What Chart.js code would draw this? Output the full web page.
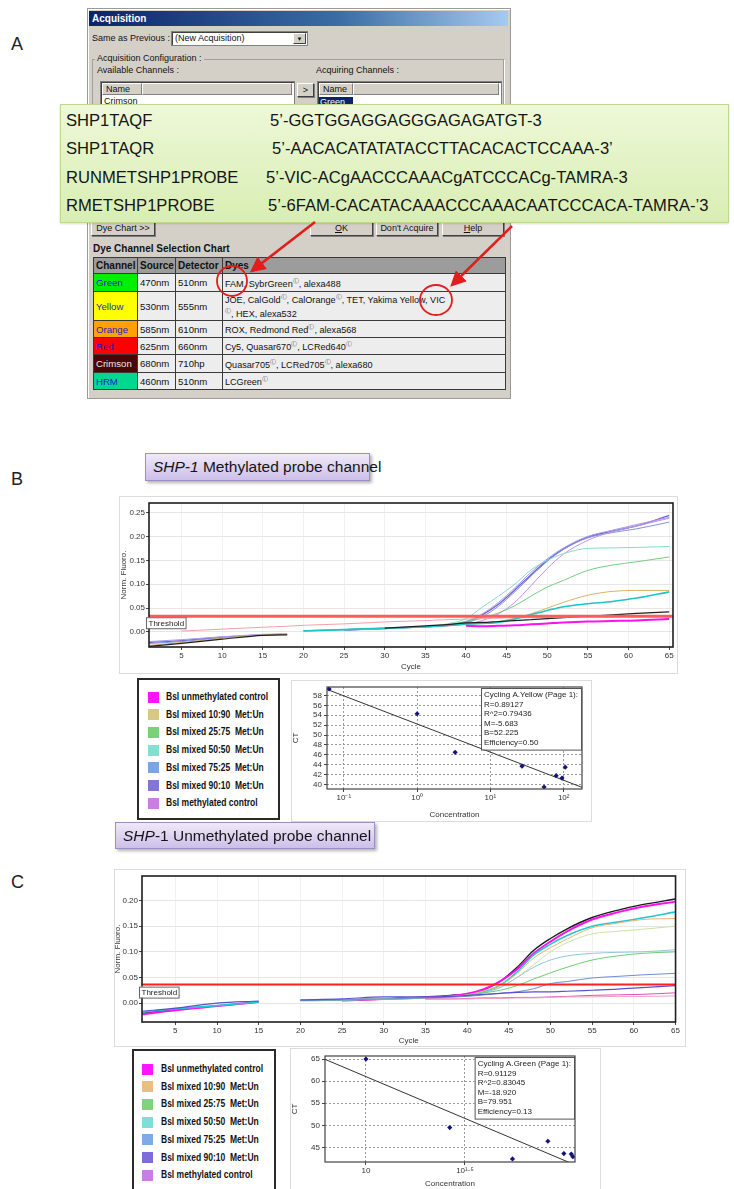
<!DOCTYPE html>
<html>
<head>
<meta charset="utf-8">
<script src="https://cdn.jsdelivr.net/npm/chart.js@4.4.1/dist/chart.umd.min.js"></script>
<style>
html,body{margin:0;padding:0;background:#fff;}
body{width:734px;height:1189px;position:relative;overflow:hidden;font-family:"Liberation Sans",Arial,sans-serif;color:#111;}
.a{position:absolute;white-space:nowrap;}
.plabel{font-size:18px;color:#222;}
.dlg{background:#d4d0c8;border:1px solid #9a9a9a;box-shadow:inset 1px 1px 0 #fff;}
.tbar{background:linear-gradient(to right,#0a246a,#3a6ea5 60%,#a6caf0);color:#fff;font-weight:bold;font-size:10px;line-height:15px;padding-left:3px;box-sizing:border-box;}
.t9{font-size:9px;line-height:11px;color:#111;}
.combo{background:#fff;border:1px solid #808080;box-shadow:inset 1px 1px 0 #404040;font-size:9px;line-height:13px;padding-left:3px;box-sizing:border-box;}
.dropbtn{position:absolute;right:1px;top:1px;width:13px;height:11px;background:#d4d0c8;border:1px solid #fff;border-right-color:#404040;border-bottom-color:#404040;font-size:6px;line-height:11px;text-align:center;box-sizing:border-box;}
.group{border:1px solid #a0a0a0;box-shadow:1px 1px 0 #fff;}
.list{background:#fff;border:1px solid #808080;box-shadow:inset 1px 1px 0 #404040;}
.hdr{background:#d4d0c8;border:1px solid #fff;border-right-color:#808080;border-bottom-color:#808080;font-size:9px;line-height:10px;padding-left:3px;box-sizing:border-box;}
.btn{background:#d4d0c8;border:1px solid #fff;border-right-color:#404040;border-bottom-color:#404040;box-shadow:1px 1px 0 #808080;font-size:9px;line-height:16px;text-align:center;box-sizing:border-box;}
.callout{background:linear-gradient(to bottom,#eef8d8,#d8eeb2);border:1px solid #bcd98e;box-shadow:0 1px 2px rgba(0,0,0,0.15);}
.seq{font-size:16.6px;line-height:19px;color:#151515;}
table.dye{border-collapse:collapse;table-layout:fixed;background:#ededed;}
table.dye td{border:1px solid #3a3a3a;font-size:9.6px;padding:0 2px;line-height:11px;vertical-align:middle;overflow:hidden;white-space:nowrap;}
table.dye td.dy{font-size:9.1px;}
table.dye tr.h td{background:#9c9c9c;font-weight:bold;font-size:10px;}
sup.l{font-size:6px;vertical-align:4px;color:#555;}
.ptitle{background:linear-gradient(to bottom,#efe9f8,#cdbfe8);border:1px solid #9d8fc2;box-shadow:2px 2px 3px rgba(0,0,0,0.3);font-size:15.5px;line-height:26px;box-sizing:border-box;padding-left:7px;color:#151515;}
.frame{border:1px solid #dcdcdc;background:#fff;}
.legbox{border:2px solid #2a2a2a;background:#fff;box-sizing:border-box;}
.sw{width:11px;height:11px;}
.legtxt{font-weight:bold;font-size:10px;line-height:12px;color:#111;white-space:pre;transform:scaleX(0.85);transform-origin:0 50%;}
canvas{position:absolute;}
</style>
</head>
<body>

<!-- Panel A: acquisition dialog with dye channel chart -->
<div class="a plabel" style="left:11px;top:34px">A</div>
<div class="a dlg" style="left:87px;top:8px;width:422px;height:389px"></div>
<div class="a tbar" style="left:89px;top:11px;width:419px;height:15px">Acquisition</div>
<div class="a t9" style="left:92px;top:33px">Same as Previous :</div>
<div class="a combo" style="left:171px;top:31px;width:137px;height:15px">(New Acquisition)<div class="dropbtn">&#9660;</div></div>
<div class="a group" style="left:92px;top:59px;width:410px;height:70px"></div>
<div class="a t9" style="left:95px;top:53px;background:#d4d0c8;padding:0 2px">Acquisition Configuration :</div>
<div class="a t9" style="left:97px;top:65px">Available Channels :</div>
<div class="a t9" style="left:316px;top:65px">Acquiring Channels :</div>
<div class="a list" style="left:100px;top:81px;width:193px;height:40px"></div>
<div class="a hdr" style="left:102px;top:83px;width:40px;height:12px">Name</div>
<div class="a hdr" style="left:142px;top:83px;width:150px;height:12px"></div>
<div class="a t9" style="left:104px;top:96px">Crimson</div>
<div class="a btn" style="left:297px;top:83px;width:17px;height:14px;line-height:12px">&gt;</div>
<div class="a list" style="left:317px;top:81px;width:183px;height:40px"></div>
<div class="a hdr" style="left:319px;top:83px;width:34px;height:12px">Name</div>
<div class="a hdr" style="left:353px;top:83px;width:146px;height:12px"></div>
<div class="a t9" style="left:319px;top:97px;width:33px;height:12px;background:#0a246a;color:#fff;padding-left:1px">Green</div>

<div class="a btn" style="left:91px;top:219px;width:64px;height:17px">Dye Chart &gt;&gt;</div>
<div class="a btn" style="left:310px;top:219px;width:63px;height:17px"><u>O</u>K</div>
<div class="a btn" style="left:376px;top:219px;width:62px;height:17px">Don't Acquire</div>
<div class="a btn" style="left:442px;top:219px;width:62px;height:17px"><u>H</u>elp</div>

<div class="a" style="left:93px;top:243px;font-size:10px;font-weight:bold">Dye Channel Selection Chart</div>
<table class="a dye" style="left:93px;top:257px;width:412px">
<colgroup><col style="width:44px"><col style="width:38px"><col style="width:47px"><col style="width:283px"></colgroup>
<tr class="h" style="height:16px"><td>Channel</td><td>Source</td><td>Detector</td><td>Dyes</td></tr>
<tr style="height:18px"><td style="background:#00f000;color:#1a1ad0">Green</td><td>470nm</td><td>510nm</td><td class="dy">FAM, SybrGreen<sup class="l">&#9409;</sup>, alexa488</td></tr>
<tr style="height:28px"><td style="background:#ffff00;color:#1a1ad0">Yellow</td><td>530nm</td><td>555nm</td><td class="dy">JOE, CalGold<sup class="l">&#9409;</sup>, CalOrange<sup class="l">&#9409;</sup>, TET, Yakima Yellow, VIC<br><sup class="l">&#9409;</sup>, HEX, alexa532</td></tr>
<tr style="height:17px"><td style="background:#ffa200;color:#1a1ad0">Orange</td><td>585nm</td><td>610nm</td><td class="dy">ROX, Redmond Red<sup class="l">&#9409;</sup>, alexa568</td></tr>
<tr style="height:17px"><td style="background:#ff0000;color:#1a1ad0">Red</td><td>625nm</td><td>660nm</td><td class="dy">Cy5, Quasar670<sup class="l">&#9409;</sup>, LCRed640<sup class="l">&#9409;</sup></td></tr>
<tr style="height:18px"><td style="background:#4a0505;color:#e8e8e8">Crimson</td><td>680nm</td><td>710hp</td><td class="dy">Quasar705<sup class="l">&#9409;</sup>, LCRed705<sup class="l">&#9409;</sup>, alexa680</td></tr>
<tr style="height:17px"><td style="background:#00d890;color:#1a1ad0">HRM</td><td>460nm</td><td>510nm</td><td class="dy">LCGreen<sup class="l">&#9409;</sup></td></tr>
</table>

<div class="a callout" style="left:60px;top:104px;width:667px;height:117px"></div>
<div class="a seq" style="left:66px;top:111px">SHP1TAQF</div>
<div class="a seq" style="left:270px;top:111px">5’-GGTGGAGGAGGGAGAGATGT-3</div>
<div class="a seq" style="left:66px;top:139px">SHP1TAQR</div>
<div class="a seq" style="left:272px;top:139px">5’-AACACATATATACCTTACACACTCCAAA-3’</div>
<div class="a seq" style="left:66px;top:168px">RUNMETSHP1PROBE</div>
<div class="a seq" style="left:266px;top:168px">5’-VIC-ACgAACCCAAACgATCCCACg-TAMRA-3</div>
<div class="a seq" style="left:66px;top:196px">RMETSHP1PROBE</div>
<div class="a seq" style="left:268px;top:196px">5’-6FAM-CACATACAAACCCAAACAATCCCACA-TAMRA-’3</div>

<svg class="a" style="left:0;top:0" width="734" height="420" viewBox="0 0 734 420">
<defs><marker id="ah" markerWidth="6" markerHeight="6" refX="4.5" refY="3" orient="auto" markerUnits="strokeWidth"><path d="M0,0 L6,3 L0,6 z" fill="#e41c1c"/></marker></defs>
<ellipse cx="232" cy="281" rx="15" ry="15" fill="none" stroke="#e41c1c" stroke-width="1.8"/>
<ellipse cx="436" cy="300" rx="16" ry="15" fill="none" stroke="#e41c1c" stroke-width="1.8"/>
<line x1="315" y1="222" x2="253" y2="270" stroke="#e41c1c" stroke-width="2.6" marker-end="url(#ah)"/>
<line x1="512" y1="226" x2="453" y2="284" stroke="#e41c1c" stroke-width="2.6" marker-end="url(#ah)"/>
</svg>

<!-- Panel B -->
<div class="a plabel" style="left:11px;top:469px">B</div>
<div class="a ptitle" style="left:145px;top:453px;width:225px;height:28px"><i>SHP-1</i> Methylated probe channel</div>
<div class="a frame" style="left:119px;top:496px;width:557px;height:176px"></div>
<canvas id="ampB" width="558" height="176" style="left:119px;top:496px"></canvas>
<div class="a legbox" style="left:137px;top:678px;width:143px;height:142px"></div>
<div id="legB"></div>
<div class="a frame" style="left:291px;top:680px;width:299px;height:140px"></div>
<canvas id="stdB" width="299" height="140" style="left:291px;top:680px"></canvas>

<!-- Panel C -->
<div class="a plabel" style="left:11px;top:872px">C</div>
<div class="a ptitle" style="left:115px;top:822px;width:260px;height:27px"><i>SHP</i>-1 Unmethylated probe channel</div>
<div class="a frame" style="left:114px;top:869px;width:570px;height:176px"></div>
<canvas id="ampC" width="568" height="176" style="left:113px;top:870px"></canvas>
<div class="a legbox" style="left:132px;top:1049px;width:144px;height:145px"></div>
<div id="legC"></div>
<div class="a frame" style="left:290px;top:1048px;width:309px;height:145px"></div>
<canvas id="stdC" width="309" height="141" style="left:290px;top:1048px"></canvas>

<script>
// ---------- amplification data (normalised fluorescence per cycle) ----------
const cycles = [1, 5, 10, 15, 18, 20, 25, 30, 35, 38, 40, 42, 44, 46, 48, 50, 52, 55, 58, 61, 65];
const cycleTicks = [5, 10, 15, 20, 25, 30, 35, 40, 45, 50, 55, 60, 65];
const fluoroTicksB = [0, 0.05, 0.10, 0.15, 0.20, 0.25];
const fluoroTicksC = [0, 0.05, 0.10, 0.15, 0.20];
const thresholdB = 0.033;
const thresholdC = 0.036;

// methylated probe channel (Cycling A.Yellow)
const metPurple   = [-0.022,-0.018,-0.011,-0.006,-0.005,null,0.004,0.007,0.011,0.014,0.021,0.036,0.058,0.088,0.120,0.150,0.174,0.199,0.211,0.222,0.244];
const metBlue     = [-0.024,-0.020,-0.012,-0.007,-0.005,null,0.004,0.007,0.011,0.014,0.019,0.032,0.054,0.084,0.117,0.148,0.173,0.197,0.208,0.216,0.230];
const metLavender = [-0.020,-0.016,-0.010,-0.005,-0.004,null,0.004,0.007,0.011,0.015,0.022,0.038,0.062,0.092,0.125,0.153,0.176,0.200,0.213,0.225,0.240];
const metOrchid   = [null,null,null,null,null,0.002,0.005,0.008,0.011,0.013,0.016,0.024,0.038,0.062,0.097,0.133,0.163,0.192,0.210,0.222,0.238];
const metTurq     = [null,null,null,null,null,0.003,0.005,0.008,0.012,0.018,0.028,0.052,0.075,0.100,0.130,0.150,0.164,0.175,0.176,0.177,0.179];
const metGreen    = [null,null,null,null,null,0.003,0.005,0.008,0.011,0.016,0.022,0.029,0.040,0.055,0.075,0.094,0.108,0.129,0.140,0.147,0.157];
const metTan      = [-0.028,-0.022,-0.013,-0.006,-0.005,null,0.005,0.008,0.011,0.014,0.016,0.018,0.022,0.029,0.038,0.050,0.062,0.077,0.085,0.087,0.087];
const metTeal     = [null,null,null,null,null,0.002,0.005,0.008,0.011,0.014,0.017,0.018,0.020,0.027,0.036,0.045,0.053,0.059,0.064,0.071,0.084];
const metBlack    = [-0.030,-0.024,-0.015,-0.007,-0.006,null,null,0.008,0.013,0.016,0.019,0.020,0.022,0.024,0.026,0.028,0.030,0.033,0.036,0.039,0.042];
const metMagenta  = [null,null,null,null,null,null,null,null,null,null,0.013,0.012,0.013,0.014,0.016,0.018,0.020,0.022,0.023,0.024,0.027];
const metPink     = [null,0.002,0.006,0.010,0.012,0.014,0.017,0.021,0.024,0.026,0.027,0.028,0.029,0.030,0.030,0.031,0.031,0.032,0.032,0.033,0.033];

// unmethylated probe channel (Cycling A.Green)
const unBlack     = [-0.020,-0.013,null,null,null,null,0.006,0.008,0.012,0.015,0.018,0.026,0.043,0.070,0.103,0.126,0.145,0.167,0.181,0.192,0.203];
const unMagenta   = [-0.022,-0.014,-0.006,0.002,null,null,0.005,0.008,0.011,0.014,0.018,0.027,0.043,0.066,0.097,0.120,0.140,0.163,0.177,0.188,0.198];
const unCyan      = [-0.018,-0.011,-0.005,0.002,null,0.005,0.006,0.008,0.010,0.012,0.015,0.022,0.035,0.061,0.094,0.115,0.132,0.150,0.158,0.166,0.178];
const unTan       = [null,null,null,null,null,0.005,0.006,0.008,0.010,0.013,0.016,0.024,0.035,0.058,0.088,0.108,0.125,0.147,0.156,0.163,0.165];
const unPaleGreen = [null,null,null,null,null,0.005,0.006,0.008,0.010,0.012,0.015,0.020,0.030,0.050,0.075,0.100,0.118,0.135,0.140,0.144,0.150];
const unPaleBlue  = [null,null,null,null,null,0.005,0.006,0.008,0.010,0.012,0.015,0.021,0.031,0.050,0.070,0.084,0.092,0.097,0.099,0.100,0.104];
const unGreen     = [null,null,null,null,null,0.005,0.006,0.008,0.010,0.012,0.015,0.020,0.025,0.034,0.047,0.059,0.070,0.084,0.092,0.097,0.100];
const unBlue      = [null,null,null,null,null,0.005,0.006,0.008,0.010,0.012,0.013,0.016,0.019,0.022,0.028,0.038,0.042,0.049,0.052,0.055,0.058];
const unPurple    = [-0.016,-0.010,0.000,0.004,null,0.006,0.008,0.012,0.012,0.013,0.015,0.017,0.019,0.021,0.022,0.022,0.023,0.025,0.027,0.030,0.034];
const unPink      = [null,null,null,null,null,null,null,null,0.008,0.008,0.009,0.010,0.010,0.011,0.011,0.012,0.013,0.015,0.016,0.017,0.020];
const unLightPink = [null,null,null,null,null,null,null,null,0.007,0.008,0.008,0.009,0.009,0.010,0.010,0.011,0.012,0.012,0.013,0.013,0.014];

// ---------- legend ----------
const legendLabels = ['Bsl unmethylated control','Bsl mixed 10:90  Met:Un','Bsl mixed 25:75  Met:Un','Bsl mixed 50:50  Met:Un','Bsl mixed 75:25  Met:Un','Bsl mixed 90:10  Met:Un','Bsl methylated control'];
const legendColorsB = ['#ff00ff','#d6c27a','#6ccc6c','#78dccb','#6f9fe0','#7868d6','#c474e0'];
const legendColorsC = ['#ff00ff','#e8b878','#72d072','#74dcd2','#74a4e2','#7460d6','#c474e0'];

// ---------- standard curves (Ct vs concentration) ----------
const concB = [0.063, 1.0, 3.3, 27, 54, 79, 95, 105];
const ctB   = [59.3, 54.3, 46.5, 43.7, 39.5, 41.8, 41.3, 43.5];
const concTicksB = [0.1, 1, 10, 100];
const concLabelsB = ['10\u207B\u00B9', '10\u2070', '10\u00B9', '10\u00B2'];
const ctTicksB = [40, 42, 44, 46, 48, 50, 52, 54, 56, 58];
const statsB = ['Cycling A.Yellow (Page 1):', 'R=0.89127', 'R^2=0.79436', 'M=-5.683', 'B=52.225', 'Efficiency=0.50'];
const slopeB = -5.683, interceptB = 52.225;

const concC = [10, 26.5, 55, 83, 100, 109, 111];
const ctC   = [65.0, 49.5, 42.4, 46.4, 43.6, 43.5, 42.9];
const concTicksC = [10, 31.623];
const concLabelsC = ['10', '10\u00B9\u00B7\u2075'];
const ctTicksC = [45, 50, 55, 60, 65];
const statsC = ['Cycling A.Green (Page 1):', 'R=0.91129', 'R^2=0.83045', 'M=-18.920', 'B=79.951', 'Efficiency=0.13'];
const slopeC = -18.920, interceptC = 79.951;

// ---------- legends as html ----------
function buildLegend(id, colors, left, swLeft, top0, step){
  const host = document.getElementById(id);
  legendLabels.forEach((lab, i) => {
    const y = top0 + i * step;
    const sw = document.createElement('div');
    sw.className = 'a sw';
    sw.style.cssText = `left:${swLeft}px;top:${y - 5.5}px;background:${colors[i]};opacity:0.92`;
    host.appendChild(sw);
    const t = document.createElement('div');
    t.className = 'a legtxt';
    t.style.cssText = `left:${left}px;top:${y - 6}px`;
    t.textContent = lab;
    host.appendChild(t);
  });
}
buildLegend('legB', legendColorsB, 166, 148, 697, 17.7);
buildLegend('legC', legendColorsC, 161, 142, 1069, 17.7);

// ---------- plugins ----------
const TICK_FONT = {family: '"Liberation Sans", Arial, sans-serif', size: 8};

const plotFrame = {
  id: 'plotFrame',
  afterDraw(chart, args, o){
    const {ctx, chartArea: a} = chart;
    ctx.save();
    ctx.strokeStyle = o.color || '#222';
    ctx.lineWidth = o.width || 1.5;
    ctx.strokeRect(a.left, a.top, a.right - a.left, a.bottom - a.top);
    ctx.restore();
  }
};

const thresholdTag = {
  id: 'thresholdTag',
  afterDraw(chart, args, o){
    if (!o || o.value === undefined) return;
    const {ctx, chartArea: a} = chart;
    const py = chart.scales.y.getPixelForValue(o.value);
    ctx.save();
    ctx.font = '8px "Liberation Sans", Arial, sans-serif';
    const w = ctx.measureText('Threshold').width + 4;
    const x = a.left - 3, top = py + o.dy;
    ctx.fillStyle = '#fff';
    ctx.fillRect(x, top, w, 11);
    ctx.strokeStyle = '#666';
    ctx.lineWidth = 1;
    ctx.strokeRect(x + 0.5, top + 0.5, w, 11);
    ctx.fillStyle = '#222';
    ctx.textBaseline = 'middle';
    ctx.fillText('Threshold', x + 2.5, top + 6.5);
    ctx.restore();
  }
};

const statsBox = {
  id: 'statsBox',
  afterDraw(chart, args, o){
    if (!o || !o.lines) return;
    const {ctx, chartArea: a} = chart;
    ctx.save();
    ctx.font = '8px "Liberation Sans", Arial, sans-serif';
    const w = Math.max(...o.lines.map(s => ctx.measureText(s).width)) + 6;
    const lh = 9.6, h = o.lines.length * lh + 4;
    const x = a.right - w - 1, y = a.top + 1;
    ctx.fillStyle = '#fff';
    ctx.fillRect(x, y, w, h);
    ctx.strokeStyle = '#555';
    ctx.lineWidth = 1;
    ctx.strokeRect(x + 0.5, y + 0.5, w, h);
    ctx.fillStyle = '#222';
    ctx.textBaseline = 'middle';
    o.lines.forEach((s, i) => ctx.fillText(s, x + 3, y + 2 + lh * (i + 0.5)));
    ctx.restore();
  }
};

// ---------- amplification plots ----------
function toPoints(vals){ return cycles.map((c, i) => ({x: c, y: vals[i]})); }

function ampChart(id, series, thr, thrStyle, yRange, yTicks, xMax, g){
  const datasets = [{
    data: [{x: 1, y: thr}, {x: xMax, y: thr}],
    borderColor: thrStyle.color, borderWidth: thrStyle.width, pointRadius: 0
  }];
  series.forEach(s => datasets.push({
    data: toPoints(s.v), borderColor: s.c, borderWidth: s.w || 1,
    pointRadius: 0, spanGaps: false, cubicInterpolationMode: 'monotone'
  }));
  new Chart(document.getElementById(id), {
    type: 'line',
    data: {datasets},
    plugins: [plotFrame, thresholdTag],
    options: {
      responsive: false, animation: false, events: [],
      layout: {padding: {top: g.top, right: g.right, left: 0, bottom: 0}},
      plugins: {legend: {display: false}, tooltip: {enabled: false},
        plotFrame: {color: '#1e1e1e', width: 1.6},
        thresholdTag: {value: thr, dy: g.tagDy}},
      scales: {
        x: {type: 'linear', min: 1, max: xMax,
          afterBuildTicks: s => { s.ticks = cycleTicks.map(v => ({value: v})); },
          afterFit: s => { s.height = g.xh; },
          ticks: {font: TICK_FONT, color: '#333', padding: 1, maxRotation: 0, autoSkip: false},
          grid: {color: '#f1f1f1', tickColor: '#444', tickLength: 3},
          border: {display: false},
          title: {display: true, text: 'Cycle', font: TICK_FONT, color: '#333', padding: {top: 0, bottom: 0}}},
        y: {min: yRange[0], max: yRange[1],
          afterBuildTicks: s => { s.ticks = yTicks.map(v => ({value: v})); },
          afterFit: s => { s.width = g.yw; },
          ticks: {font: TICK_FONT, color: '#333', padding: 1, autoSkip: false, callback: v => v.toFixed(2)},
          grid: {color: '#e6e6e6', tickColor: '#444', tickLength: 3},
          border: {display: false},
          title: {display: true, text: 'Norm. Fluoro.', font: TICK_FONT, color: '#333', padding: {top: 0, bottom: 1}}}
      }
    }
  });
}

ampChart('ampB', [
  {v: metPink, c: '#f2a0a8', w: 1},
  {v: metBlack, c: '#202020', w: 1.2},
  {v: metMagenta, c: '#ff10f0', w: 2},
  {v: metTeal, c: '#1cc4c8', w: 1.6},
  {v: metTan, c: '#d8b266', w: 1},
  {v: metGreen, c: '#7acb82', w: 1},
  {v: metTurq, c: '#86dccb', w: 1},
  {v: metOrchid, c: '#c490e6', w: 1},
  {v: metLavender, c: '#a79cec', w: 1},
  {v: metBlue, c: '#7d92dc', w: 1},
  {v: metPurple, c: '#7563cf', w: 1.4}
], thresholdB, {color: '#ff5b5b', width: 3}, [-0.0314, 0.270], fluoroTicksB, 65.47,
  {top: 7, right: 4, xh: 25, yw: 30, tagDy: 1});

ampChart('ampC', [
  {v: unLightPink, c: '#f0a0c0', w: 1},
  {v: unPink, c: '#e050b4', w: 1},
  {v: unPurple, c: '#5a4fd0', w: 1.2},
  {v: unBlue, c: '#6f8ed2', w: 1},
  {v: unGreen, c: '#6fcb72', w: 1},
  {v: unPaleBlue, c: '#92c6dc', w: 1},
  {v: unPaleGreen, c: '#cfe0a6', w: 1},
  {v: unTan, c: '#eab378', w: 1},
  {v: unCyan, c: '#20c8d0', w: 1.6},
  {v: unMagenta, c: '#ff10f0', w: 2},
  {v: unBlack, c: '#1a1a1a', w: 1.4}
], thresholdC, {color: '#ff2020', width: 2}, [-0.037, 0.248], fluoroTicksC, 65.0,
  {top: 6, right: 4.5, xh: 24, yw: 29, tagDy: 2});

// ---------- standard curves ----------
function stdChart(id, conc, ct, slope, icpt, xRange, xTicks, xLabels, yRange, yTicks, stats, g){
  const fit = xRange.map(c => ({x: c, y: slope * Math.log10(c) + icpt}));
  new Chart(document.getElementById(id), {
    type: 'scatter',
    data: {datasets: [
      {data: conc.map((c, i) => ({x: c, y: ct[i]})), pointStyle: 'rectRot', pointRadius: 2.6,
       backgroundColor: '#14147a', borderColor: '#14147a', borderWidth: 0},
      {type: 'line', data: fit, borderColor: '#333', borderWidth: 1, pointRadius: 0}
    ]},
    plugins: [plotFrame, statsBox],
    options: {
      responsive: false, animation: false, events: [],
      layout: {padding: {top: g.top, right: g.right, left: 0, bottom: 0}},
      plugins: {legend: {display: false}, tooltip: {enabled: false},
        plotFrame: {color: '#444', width: 1.2},
        statsBox: {lines: stats}},
      scales: {
        x: {type: 'logarithmic', min: xRange[0], max: xRange[1],
          afterBuildTicks: s => { s.ticks = xTicks.map(v => ({value: v})); },
          afterFit: s => { s.height = g.xh; },
          ticks: {font: TICK_FONT, color: '#333', padding: 1, maxRotation: 0, autoSkip: false,
            callback: (v, i) => xLabels[i]},
          grid: {color: '#9a9a9a', tickColor: '#444', tickLength: 3, drawOnChartArea: true},
          border: {display: false, dash: [2, 2]},
          title: {display: true, text: 'Concentration', font: TICK_FONT, color: '#333', padding: {top: 1, bottom: 0}}},
        y: {min: yRange[0], max: yRange[1],
          afterBuildTicks: s => { s.ticks = yTicks.map(v => ({value: v})); },
          afterFit: s => { s.width = g.yw; },
          ticks: {font: TICK_FONT, color: '#333', padding: 2, autoSkip: false},
          grid: {color: '#9a9a9a', tickColor: '#444', tickLength: 3},
          border: {display: false, dash: [2, 2]},
          title: {display: true, text: 'CT', font: TICK_FONT, color: '#333', padding: {top: 0, bottom: 2}}}
      }
    }
  });
}

stdChart('stdB', concB, ctB, slopeB, interceptB, [0.0589, 177.8], concTicksB, concLabelsB,
  [39.1, 59.7], ctTicksB, statsB, {top: 7, right: 8, xh: 31, yw: 36});
stdChart('stdC', concC, ctC, slopeC, interceptC, [6.21, 113.8], concTicksC, concLabelsC,
  [41.7, 65.7], ctTicksC, statsC, {top: 8, right: 24, xh: 27, yw: 35});
</script>
</body>
</html>
